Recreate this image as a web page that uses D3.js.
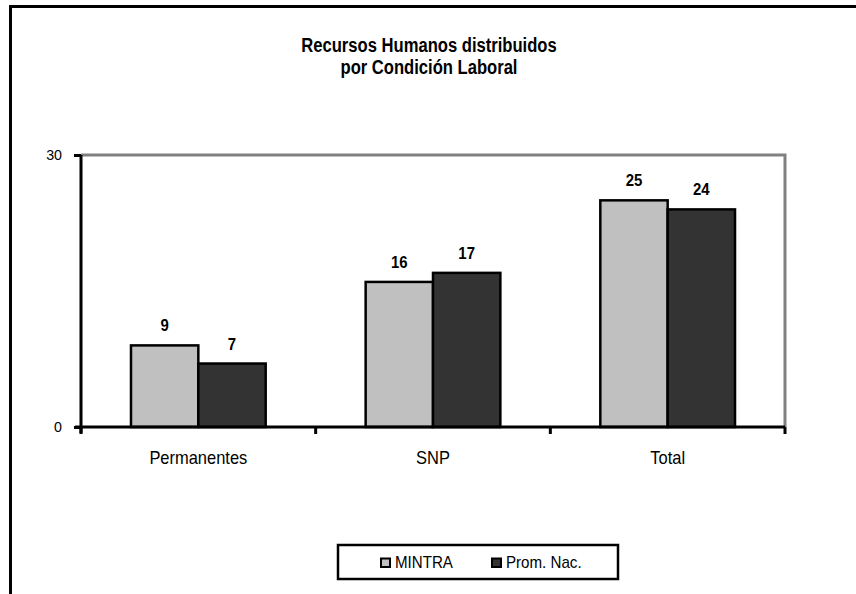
<!DOCTYPE html>
<html lang="es">
<head>
<meta charset="UTF-8">
<title>Recursos Humanos distribuidos por Condición Laboral</title>
<script src="https://cdnjs.cloudflare.com/ajax/libs/d3/7.8.5/d3.min.js"></script>
<style>
  body { margin: 0; background: #fff; }
  svg text { font-family: "Liberation Sans", Arial, sans-serif; fill: #000; }
</style>
</head>
<body>
<svg id="chart" width="856" height="594"></svg>
<script>
// datos
const categories = ["Permanentes", "SNP", "Total"];
const seriesNames = ["MINTRA", "Prom. Nac."];
const mintra = [9, 16, 25];
const promNac = [7, 17, 24];
const yTicks = [0, 30];
const titleLines = ["Recursos Humanos distribuidos", "por Condición Laboral"];

const colors = ["#c0c0c0", "#333333"];
const svg = d3.select("#chart");

// el original usa una letra estrecha (tipo Arial Narrow): se comprime en horizontal
function narrow(sel, sx) {
  sel.each(function () {
    const t = d3.select(this);
    const x = +t.attr("x") || 0;
    t.attr("x", x / sx).attr("transform", `scale(${sx},1)`);
  });
}

// marco exterior (solo se ve arriba e izquierda)
svg.append("rect")
  .attr("x", 10.5).attr("y", 6.5)
  .attr("width", 900).attr("height", 700)
  .attr("fill", "#fff").attr("stroke", "#000").attr("stroke-width", 3);

// titulo
svg.append("g").selectAll("text")
  .data(titleLines)
  .join("text")
  .attr("x", 429).attr("y", (d, i) => 52.5 + i * 22)
  .attr("text-anchor", "middle")
  .attr("font-size", 20.5).attr("font-weight", "bold")
  .text(d => d)
  .call(narrow, 0.81);

const m = { left: 81, right: 785, top: 155, bottom: 427 };

const x0 = d3.scaleBand().domain(categories).range([m.left, m.right]).padding(0);
const bw = x0.bandwidth() * 0.287;
const x1 = d3.scaleBand().domain(seriesNames)
  .range([x0.bandwidth() / 2 - bw, x0.bandwidth() / 2 + bw]).padding(0);
const y = d3.scaleLinear().domain([0, 30]).range([m.bottom, m.top]);

// borde gris del area de trazado (arriba y derecha)
svg.append("path")
  .attr("d", `M${m.left},${m.top}H${m.right}V${m.bottom}`)
  .attr("fill", "none").attr("stroke", "#808080").attr("stroke-width", 3);

const rows = categories.map((c, i) => ({ cat: c, vals: [mintra[i], promNac[i]] }));

const groups = svg.append("g").selectAll("g")
  .data(rows)
  .join("g")
  .attr("transform", d => `translate(${x0(d.cat)},0)`);

groups.selectAll("rect")
  .data(d => d.vals.map((v, k) => ({ s: seriesNames[k], v, k })))
  .join("rect")
  .attr("x", d => x1(d.s))
  .attr("y", d => y(d.v))
  .attr("width", x1.bandwidth())
  .attr("height", d => y(0) - y(d.v))
  .attr("fill", d => colors[d.k])
  .attr("stroke", "#000").attr("stroke-width", 2.5);

groups.selectAll("text.val")
  .data(d => d.vals.map((v, k) => ({ s: seriesNames[k], v, k })))
  .join("text")
  .attr("class", "val")
  .attr("x", d => x1(d.s) + x1.bandwidth() / 2)
  .attr("y", d => y(d.v) - 14)
  .attr("text-anchor", "middle")
  .attr("font-size", 17).attr("font-weight", "bold")
  .text(d => d.v)
  .call(narrow, 0.88);

// eje Y
const yAxis = svg.append("g")
  .attr("transform", `translate(${m.left},0)`)
  .call(d3.axisLeft(y).tickValues(yTicks).tickSize(7).tickPadding(12));
yAxis.select(".domain").attr("stroke", "#000").attr("stroke-width", 3)
  .attr("d", `M0,${m.top}V${m.bottom + 6}`);
yAxis.selectAll(".tick line").attr("stroke", "#000").attr("stroke-width", 3);
yAxis.selectAll(".tick text").attr("font-size", 15).attr("fill", "#111")
  .call(narrow, 0.95);

// eje X
const xAxis = svg.append("g")
  .attr("transform", `translate(0,${m.bottom})`)
  .call(d3.axisBottom(x0).tickSize(0).tickPadding(24));
xAxis.select(".domain").attr("stroke", "#000").attr("stroke-width", 3)
  .attr("d", `M${m.left - 6},0H${m.right}`);
xAxis.selectAll(".tick text").attr("font-size", 18.5).attr("fill", "#111")
  .call(narrow, 0.89);
xAxis.selectAll("line.sep")
  .data(categories.map(c => x0(c)).concat([m.right]))
  .join("line")
  .attr("class", "sep")
  .attr("x1", d => d).attr("x2", d => d)
  .attr("y1", 0).attr("y2", 7)
  .attr("stroke", "#000").attr("stroke-width", 3);

// leyenda
const lg = svg.append("g");
lg.append("rect")
  .attr("x", 338).attr("y", 545).attr("width", 280).attr("height", 34)
  .attr("fill", "#fff").attr("stroke", "#000").attr("stroke-width", 2.5);
const legX = [381, 492];
const items = lg.selectAll("g.item")
  .data(seriesNames)
  .join("g")
  .attr("class", "item")
  .attr("transform", (d, i) => `translate(${legX[i]},562.5)`);
items.append("rect")
  .attr("x", 0).attr("y", -4).attr("width", 9).attr("height", 8.5)
  .attr("fill", (d, i) => colors[i]).attr("stroke", "#000").attr("stroke-width", 2);
items.append("text")
  .attr("x", 14).attr("y", 5)
  .attr("font-size", 17).attr("fill", "#111")
  .text(d => d)
  .call(narrow, 0.89);
</script>
</body>
</html>
